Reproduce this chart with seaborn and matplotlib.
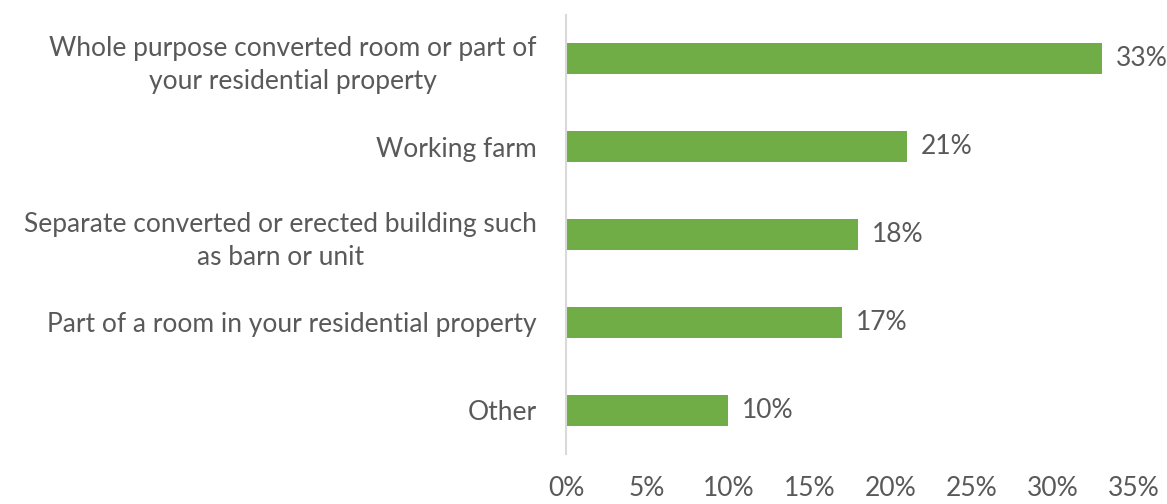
import matplotlib
matplotlib.use("Agg")
import matplotlib.pyplot as plt
import seaborn as sns
import pandas as pd

categories = [
    "Whole purpose converted room or part of\nyour residential property",
    "Working farm",
    "Separate converted or erected building such\nas barn or unit",
    "Part of a room in your residential property",
    "Other",
]
values = [33, 21, 18, 17, 10]
x_ticks = [0, 5, 10, 15, 20, 25, 30, 35]

df = pd.DataFrame({"category": categories, "share": values})

sns.set_theme(style="white")
plt.rcParams["font.family"] = ["Lato", "DejaVu Sans"]

text_color = "#595959"
bar_color = "#70AD47"
fs = 19

fig = plt.figure(figsize=(11.67, 5.04), dpi=100)
ax = fig.add_axes([566 / 1167, 1 - 454 / 504, (1134 - 566) / 1167, (454 - 15) / 504])

sns.barplot(data=df, x="share", y="category", orient="h", color=bar_color,
            saturation=1, width=0.355, ax=ax, edgecolor="none")

ax.set_xlim(0, 35)
ax.set_xticks(x_ticks)
ax.set_xticklabels([f"{t}%" for t in x_ticks])
ax.set_ylim(4.5, -0.5)
ax.set_xlabel("")
ax.set_ylabel("")

for cont in ax.containers:
    ax.bar_label(cont, labels=[f"{v}%" for v in values], padding=10,
                 fontsize=fs, color=text_color)

ax.tick_params(axis="x", length=0, pad=16, labelsize=fs, labelcolor=text_color)
ax.tick_params(axis="y", length=0, pad=21, labelsize=fs, labelcolor=text_color)
for lbl in ax.get_yticklabels():
    lbl.set_multialignment("center")
    lbl.set_linespacing(1.4)

for side in ["top", "right", "bottom"]:
    ax.spines[side].set_visible(False)
ax.spines["left"].set_color("#D9D9D9")
ax.spines["left"].set_linewidth(1.5)
ax.grid(False)

fig.savefig("out.png", dpi=100)
